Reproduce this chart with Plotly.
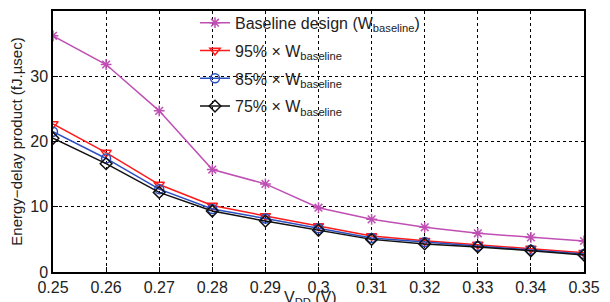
import plotly.graph_objects as go

vdd = [0.25, 0.26, 0.27, 0.28, 0.29, 0.30, 0.31, 0.32, 0.33, 0.34, 0.35]
x_tick_labels = ["0.25", "0.26", "0.27", "0.28", "0.29", "0.3", "0.31", "0.32", "0.33", "0.34", "0.35"]
y_ticks = [0, 10, 20, 30, 40]

edp_baseline = [36.2, 31.8, 24.7, 15.7, 13.5, 9.85, 8.07, 6.85, 5.93, 5.3, 4.75]
edp_95 = [22.7, 18.3, 13.4, 10.2, 8.6, 7.05, 5.5, 4.8, 4.2, 3.6, 2.95]
edp_85 = [21.5, 17.4, 12.7, 9.65, 8.2, 6.7, 5.2, 4.6, 4.0, 3.4, 2.75]
edp_75 = [20.5, 16.6, 12.2, 9.35, 7.8, 6.4, 5.0, 4.3, 3.85, 3.25, 2.6]

names = ["Baseline design (W<sub>baseline</sub>)",
         "95% × W<sub>baseline</sub>",
         "85% × W<sub>baseline</sub>",
         "75% × W<sub>baseline</sub>"]
series = [edp_baseline, edp_95, edp_85, edp_75]
colors = ["#c04fb4", "#ff1a1a", "#2a4fc0", "#111111"]
symbols = ["asterisk-open", "triangle-down-open", "circle-open", "diamond-open"]

FONT = "Liberation Sans, Arial"

fig = go.Figure()
for i, (name, ys, c, s) in enumerate(zip(names, series, colors, symbols)):
    fig.add_trace(go.Scatter(
        x=vdd, y=ys, name=name, mode="lines+markers", legendgroup=f"g{i}",
        line=dict(color=c, width=1.5),
        marker=dict(symbol=s, size=9, color=c, line=dict(color=c, width=1.5)),
    ))

axis_common = dict(
    showline=True, linecolor="black", linewidth=1.5, mirror=True,
    ticks="inside", ticklen=5, tickcolor="black",
    showgrid=True, gridcolor="black", gridwidth=1, griddash="dot",
    zeroline=False, automargin=False,
    tickfont=dict(family=FONT, size=16, color="#222"),
)

fig.update_xaxes(range=[0.25, 0.35], tickvals=vdd, ticktext=x_tick_labels, **axis_common)
fig.update_yaxes(range=[0, 40], tickvals=y_ticks,
                 title=dict(text="Energy−delay product (fJ.µsec)", standoff=6,
                            font=dict(family=FONT, size=15, color="#222")),
                 **axis_common)

fig.add_annotation(text="V<sub>DD</sub> (V)", xref="paper", yref="paper",
                   x=(310 - 53) / 531, y=-0.058, xanchor="center", yanchor="top",
                   showarrow=False, font=dict(family=FONT, size=16, color="#222"))

# page body has an 8px default margin; compensate so the plot area lands at x 53..584, y 11..272
fig.update_layout(
    width=610, height=302,
    margin=dict(l=45, r=34, t=3, b=38, autoexpand=False),
    paper_bgcolor="white", plot_bgcolor="white",
    showlegend=True,
    legend=dict(x=(195 - 53) / 531, y=1.02, xanchor="left", yanchor="top",
                bgcolor="rgba(255,255,255,0)", borderwidth=0,
                font=dict(family=FONT, size=16, color="#222"),
                itemwidth=30, tracegroupgap=4),
)

fig.write_html("out.html")
